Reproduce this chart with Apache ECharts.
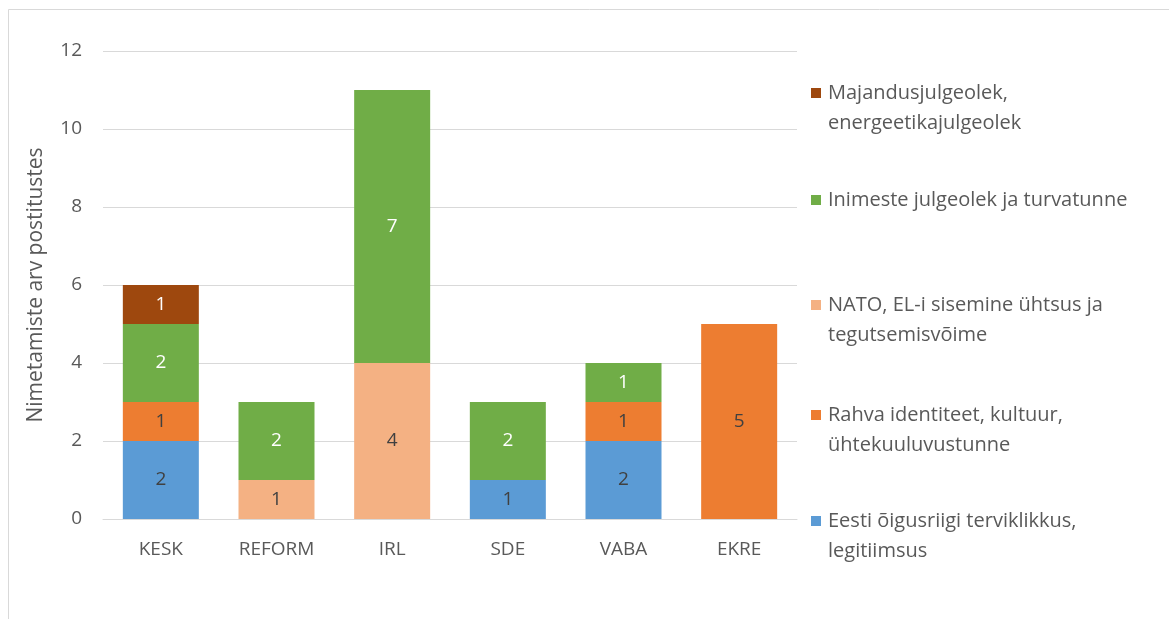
<!DOCTYPE html>
<html>
<head>
<meta charset="utf-8">
<script src="https://cdn.jsdelivr.net/npm/echarts@6/dist/echarts.min.js"></script>
<style>
  html, body { margin: 0; padding: 0; background: #fff; }
  #container { width: 1169px; height: 619px; }
</style>
</head>
<body>
<div id="container"></div>
<script>
// parteid
var parties = ['KESK', 'REFORM', 'IRL', 'SDE', 'VABA', 'EKRE'];

// teemad (alt üles virnas)
var eesti    = [2, 0, 0, 1, 2, 0];
var rahva    = [1, 0, 0, 0, 1, 5];
var nato     = [0, 1, 4, 0, 0, 0];
var inimeste = [2, 2, 7, 2, 1, 0];
var majandus = [1, 0, 0, 0, 0, 0];

var yTicks = [0, 2, 4, 6, 8, 10, 12];

var names = {
    eesti: 'Eesti õigusriigi terviklikkus,\nlegitiimsus',
    rahva: 'Rahva identiteet, kultuur,\nühtekuuluvustunne',
    nato: 'NATO, EL-i sisemine ühtsus ja\ntegutsemisvõime',
    inimeste: 'Inimeste julgeolek ja turvatunne',
    majandus: 'Majandusjulgeolek,\nenergeetikajulgeolek'
};

var font = '"Open Sans", "Liberation Sans", sans-serif';
var textCol = '#595959';

function mkSeries(name, data, color, labelColor) {
    return {
        name: name,
        type: 'bar',
        stack: 'kokku',
        barWidth: 76,
        data: data,
        itemStyle: { color: color },
        label: {
            show: true,
            position: 'inside',
            color: labelColor,
            fontFamily: font,
            fontSize: 19,
            formatter: function (p) { return p.value ? String(p.value) : ''; }
        }
    };
}

// ikoon, mille ruut on ülemise rea kõrgusel
var twoLineIcon = 'path://M0,0L10,0L10,10L0,10Z M0,40L0.01,40Z';

function mkLegend(name, top, twoLine) {
    return {
        data: [{ name: name, icon: twoLine ? twoLineIcon : 'rect' }],
        left: 811,
        top: top,
        orient: 'vertical',
        padding: 0,
        itemWidth: 10,
        itemHeight: twoLine ? 40 : 10,
        itemGap: 0,
        textStyle: {
            color: textCol,
            fontFamily: font,
            fontSize: 20,
            lineHeight: 30,
            padding: [0, 0, 0, 2]
        }
    };
}

var myChart = echarts.init(document.getElementById('container'));
var option = {
    animation: false,
    backgroundColor: '#fff',
    graphic: [{
        type: 'rect',
        shape: { x: 8.5, y: 9.5, width: 1300, height: 800 },
        style: { fill: 'none', stroke: '#D9D9D9', lineWidth: 1 },
        silent: true
    }],
    grid: { left: 103, right: 372, top: 51, bottom: 100 },
    legend: [
        mkLegend(names.majandus, 78, true),
        mkLegend(names.inimeste, 185, false),
        mkLegend(names.nato, 290, true),
        mkLegend(names.rahva, 400, true),
        mkLegend(names.eesti, 506, true)
    ],
    xAxis: {
        type: 'category',
        data: parties,
        axisLine: { lineStyle: { color: '#D9D9D9' } },
        axisTick: { show: false },
        axisLabel: { color: textCol, fontFamily: font, fontSize: 19, margin: 21 }
    },
    yAxis: {
        type: 'value',
        min: yTicks[0],
        max: yTicks[yTicks.length - 1],
        interval: 2,
        name: 'Nimetamiste arv postitustes',
        nameLocation: 'middle',
        nameGap: 56,
        nameTextStyle: { color: textCol, fontFamily: font, fontSize: 21 },
        axisLine: { show: false },
        axisTick: { show: false },
        splitLine: { lineStyle: { color: '#D9D9D9' } },
        axisLabel: { color: textCol, fontFamily: font, fontSize: 19, margin: 21 }
    },
    series: [
        mkSeries(names.eesti, eesti, '#5B9BD5', '#404040'),
        mkSeries(names.rahva, rahva, '#ED7D31', '#404040'),
        mkSeries(names.nato, nato, '#F4B183', '#404040'),
        mkSeries(names.inimeste, inimeste, '#70AD47', '#ffffff'),
        mkSeries(names.majandus, majandus, '#9E480E', '#ffffff')
    ]
};
myChart.setOption(option);
</script>
</body>
</html>
